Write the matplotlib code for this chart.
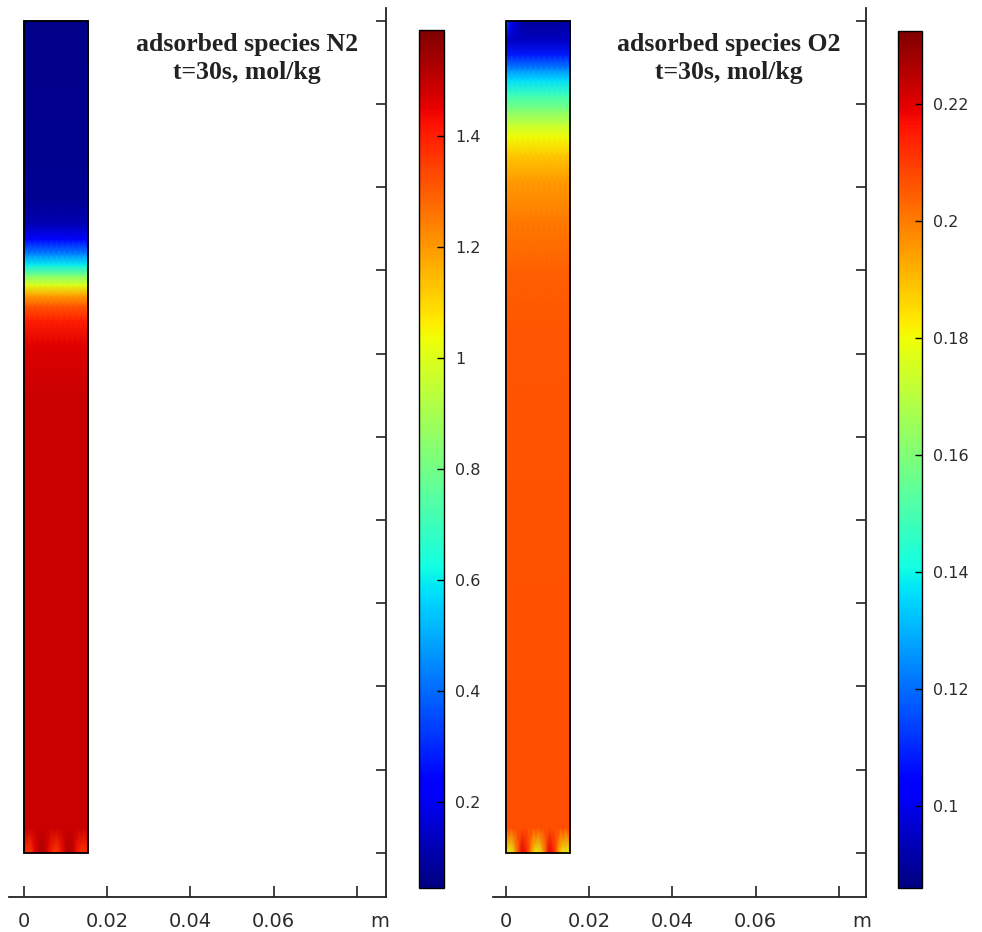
import matplotlib
matplotlib.use("Agg")
import matplotlib.pyplot as plt
from matplotlib.patches import Rectangle
import numpy as np

plt.rcParams['font.family'] = ['DejaVu Sans']

# column geometry (m)
col_w = 0.0155
col_h = 0.2
col_x = [0, 0.0013, 0.0026, 0.0039, 0.0052, 0.0065, 0.0078, 0.0091,
         0.0104, 0.0117, 0.013, 0.0143, 0.0155]

# N2 profile along height (values in mol/kg)
n2_z = [0.006, 0.109, 0.122, 0.128, 0.1317, 0.1341, 0.1365, 0.139,
        0.1414, 0.1438, 0.1474, 0.151, 0.157, 0.2]
n2_val = [1.49, 1.49, 1.46, 1.4, 1.3, 1.18, 1.0, 0.8,
          0.6, 0.45, 0.25, 0.12, 0.07, 0.06]
n2_bottom = [1.4, 1.34, 1.44, 1.53, 1.5, 1.4, 1.34, 1.43, 1.53, 1.5, 1.4, 1.35, 1.4]
n2_range = (0.045, 1.59)
n2_ticks = [0.2, 0.4, 0.6, 0.8, 1.0, 1.2, 1.4]
n2_labels = ['0.2', '0.4', '0.6', '0.8', '1', '1.2', '1.4']

# O2 profile along height
o2_z = [0.006, 0.1257, 0.1402, 0.1522, 0.1618, 0.1678, 0.1721, 0.175,
        0.1786, 0.1822, 0.1858, 0.1882, 0.1918, 0.1954, 0.2]
o2_val = [0.207, 0.206, 0.204, 0.2, 0.195, 0.188, 0.18, 0.172,
          0.16, 0.148, 0.136, 0.125, 0.108, 0.095, 0.09]
o2_bottom = [0.186, 0.176, 0.2, 0.22, 0.212, 0.188, 0.176, 0.196, 0.22, 0.212, 0.188, 0.176, 0.186]
o2_top = [0.115, 0.104, 0.095, 0.091, 0.09, 0.089, 0.089, 0.089, 0.089, 0.09, 0.09, 0.091, 0.092]
o2_range = (0.086, 0.2325)
o2_ticks = [0.1, 0.12, 0.14, 0.16, 0.18, 0.2, 0.22]
o2_labels = ['0.1', '0.12', '0.14', '0.16', '0.18', '0.2', '0.22']

xticks = [0, 0.02, 0.04, 0.06, 0.08]
xlabels = ['0', '0.02', '0.04', '0.06', '']
yticks = [0, 0.02, 0.04, 0.06, 0.08, 0.1, 0.12, 0.14, 0.16, 0.18, 0.2]

fig = plt.figure(figsize=(9.82, 9.32), dpi=100)
fig.patch.set_facecolor('white')

tick_col = '#2b2b2b'


def panel(ax_rect, cax_rect, z, vals, bottom, top, vrange, cticks, clabels, title, xlim):
    ax = fig.add_axes(ax_rect)
    zz = np.array([0.0] + list(z))
    C = np.tile(np.array([np.nan] + list(vals))[:, None], (1, len(col_x)))
    C[0, :] = bottom
    if top is not None:
        C[-1, :] = top
    X, Z = np.meshgrid(col_x, zz)
    mesh = ax.pcolormesh(X, Z, C, shading='gouraud', cmap='jet',
                         vmin=vrange[0], vmax=vrange[1])
    ax.add_patch(Rectangle((0, 0), col_w, col_h, fill=False, ec='black', lw=1.3, zorder=3))

    ax.set_xlim(*xlim)
    ax.set_ylim(-0.0106, 0.2031)
    for s in ['top', 'left']:
        ax.spines[s].set_visible(False)
    for s in ['bottom', 'right']:
        ax.spines[s].set_linewidth(1.3)
        ax.spines[s].set_color('#222222')
    ax.yaxis.tick_right()
    ax.set_yticks(yticks)
    ax.tick_params(axis='y', direction='in', length=7, width=1.2, labelright=False,
                   color='#222222')
    ax.set_xticks(xticks)
    ax.set_xticklabels(xlabels)
    ax.tick_params(axis='x', direction='in', length=8, width=1.2, labelsize=14,
                   labelcolor=tick_col, color='#222222', pad=11)
    ax.annotate('m', xy=(0.0856, -0.0106), xytext=(0, -11), textcoords='offset points',
                ha='center', va='top', fontsize=14, color=tick_col)
    ax.annotate(title, xy=(0.0535, 0.1972), ha='center', va='top', fontsize=18.5,
                fontweight='bold', family='Liberation Serif', color='#222222',
                linespacing=1.3)

    cax = fig.add_axes(cax_rect)
    cb = fig.colorbar(mesh, cax=cax)
    cb.set_ticks(cticks)
    cb.set_ticklabels(clabels)
    cb.outline.set_linewidth(1.0)
    cax.tick_params(direction='in', length=5, width=1.0, labelsize=11.5,
                    labelcolor=tick_col, pad=8)
    return ax


panel([0.00917, 0.03755, 0.3839, 0.9539], [0.4267, 0.0472, 0.0255, 0.9206],
      n2_z, n2_val, n2_bottom, None, n2_range, n2_ticks, n2_labels,
      'adsorbed species N2\nt=30s, mol/kg', (-0.0036, 0.087))
panel([0.502, 0.03755, 0.3798, 0.9539], [0.9145, 0.0472, 0.0244, 0.9195],
      o2_z, o2_val, o2_bottom, o2_top, o2_range, o2_ticks, o2_labels,
      'adsorbed species O2\nt=30s, mol/kg', (-0.0031, 0.0865))

fig.savefig('out.png', dpi=100)
